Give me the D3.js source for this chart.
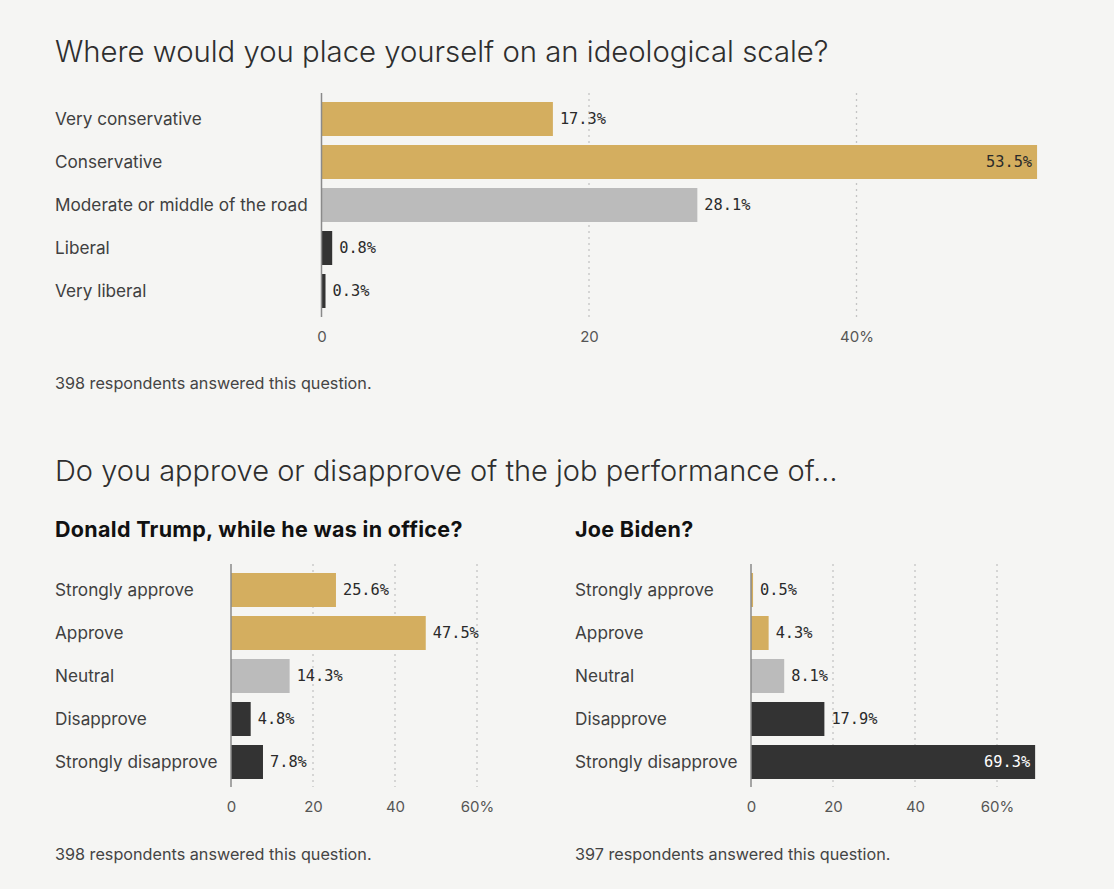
<!DOCTYPE html>
<html>
<head>
<meta charset="utf-8">
<script src="https://cdn.jsdelivr.net/npm/d3@7"></script>
<style>
  html, body { margin: 0; padding: 0; background: #f5f5f3; }
  svg { display: block; }
</style>
</head>
<body>
<svg id="chart" width="1114" height="889"></svg>
<script>
// ---------- DATA ----------
const ideologyCategories = ["Very conservative", "Conservative", "Moderate or middle of the road", "Liberal", "Very liberal"];
const ideologyValues = [17.3, 53.5, 28.1, 0.8, 0.3];
const ideologyGroups = ["con", "con", "mid", "lib", "lib"];
const ideologyTicks = [0, 20, 40];

const approvalCategories = ["Strongly approve", "Approve", "Neutral", "Disapprove", "Strongly disapprove"];
const approvalGroups = ["con", "con", "mid", "lib", "lib"];
const trumpValues = [25.6, 47.5, 14.3, 4.8, 7.8];
const bidenValues = [0.5, 4.3, 8.1, 17.9, 69.3];
const approvalTicks = [0, 20, 40, 60];

const title1 = "Where would you place yourself on an ideological scale?";
const title2 = "Do you approve or disapprove of the job performance of…";
const subTrump = "Donald Trump, while he was in office?";
const subBiden = "Joe Biden?";
const footer1 = "398 respondents answered this question.";
const footerTrump = "398 respondents answered this question.";
const footerBiden = "397 respondents answered this question.";

// ---------- STYLE ----------
const colors = { con: "#d4ae5f", mid: "#bbbbbb", lib: "#333333" };
const SANS = "Inter, 'Noto Sans', sans-serif";
const MONO = "'DejaVu Sans Mono', 'Liberation Mono', monospace";

const svg = d3.select("#chart");

function text(x, y, str, size, weight, fill, spacing) {
  return svg.append("text")
    .attr("x", x).attr("y", y)
    .attr("font-family", SANS)
    .attr("font-size", size)
    .attr("font-weight", weight)
    .attr("fill", fill)
    .attr("letter-spacing", spacing || 0)
    .text(str);
}

function drawBars(opts) {
  const { labelX, x0, unitPx, domainMax, top, step, barH, cats, vals, groups, ticks, tickY, axisTop, axisBottom } = opts;
  const x = d3.scaleLinear().domain([0, domainMax]).range([x0, x0 + unitPx * domainMax]);
  const y = d3.scalePoint().domain(cats).range([top, top + step * (cats.length - 1)]);

  const g = svg.append("g");

  // grid lines (dotted)
  g.selectAll("line.grid").data(ticks.filter(t => t !== 0)).join("line")
    .attr("class", "grid")
    .attr("x1", d => x(d)).attr("x2", d => x(d))
    .attr("y1", axisTop).attr("y2", axisBottom)
    .attr("stroke", "#c4c4c4").attr("stroke-width", 1.3)
    .attr("stroke-dasharray", "2,4");

  // category labels
  g.selectAll("text.cat").data(cats).join("text")
    .attr("class", "cat")
    .attr("x", labelX)
    .attr("y", d => y(d) + barH / 2)
    .attr("dy", "0.35em")
    .attr("font-family", SANS).attr("font-size", 17.2)
    .attr("fill", "#404040")
    .text(d => d);

  // bars
  g.selectAll("rect.bar").data(vals).join("rect")
    .attr("class", "bar")
    .attr("x", x(0))
    .attr("y", (d, i) => y(cats[i]))
    .attr("width", d => x(d) - x(0))
    .attr("height", barH)
    .attr("fill", (d, i) => colors[groups[i]]);

  // zero axis line
  g.append("line")
    .attr("x1", x(0)).attr("x2", x(0))
    .attr("y1", axisTop).attr("y2", axisBottom)
    .attr("stroke", "#8a8a8a").attr("stroke-width", 1.5);

  // value labels
  const inside = d => d > domainMax * 0.85;
  g.selectAll("text.val").data(vals).join("text")
    .attr("class", "val")
    .attr("x", d => inside(d) ? x(d) - 5 : x(d) + 7)
    .attr("y", (d, i) => y(cats[i]) + barH / 2)
    .attr("dy", "0.35em")
    .attr("text-anchor", d => inside(d) ? "end" : "start")
    .attr("font-family", MONO).attr("font-size", 15.3)
    .attr("fill", (d, i) => inside(d) && groups[i] === "lib" ? "#ffffff" : "#2a2a2a")
    .text(d => d.toFixed(1) + "%");

  // x axis ticks via d3 axis
  const axis = d3.axisBottom(x).tickValues(ticks).tickSize(0)
    .tickFormat((d, i) => i === ticks.length - 1 ? d + "%" : d);
  const ag = g.append("g").attr("transform", `translate(0,${tickY})`).call(axis);
  ag.select(".domain").remove();
  ag.selectAll("text")
    .attr("font-family", SANS).attr("font-size", 15)
    .attr("fill", "#555").attr("dy", 0).attr("y", 0);
}

// ---------- TITLES ----------
text(55, 62, title1, 29.3, 300, "#2e2e2e");
text(55, 481, title2, 29, 300, "#2e2e2e");
text(55, 537, subTrump, 21.5, 700, "#111", 0.3);
text(575, 537, subBiden, 21.5, 700, "#111", 0.3);

// ---------- CHART 1 ----------
drawBars({
  labelX: 55, x0: 321.5, unitPx: 13.375, domainMax: 53.6,
  top: 102, step: 43, barH: 34,
  cats: ideologyCategories, vals: ideologyValues, groups: ideologyGroups,
  ticks: ideologyTicks, tickY: 342, axisTop: 93, axisBottom: 317
});
text(55, 389, footer1, 16.2, 400, "#444");

// ---------- CHART 2 (Trump) ----------
drawBars({
  labelX: 55, x0: 231, unitPx: 4.1, domainMax: 60,
  top: 573, step: 43, barH: 34,
  cats: approvalCategories, vals: trumpValues, groups: approvalGroups,
  ticks: approvalTicks, tickY: 812, axisTop: 564, axisBottom: 787
});
text(55, 860, footerTrump, 16.2, 400, "#444");

// ---------- CHART 3 (Biden) ----------
drawBars({
  labelX: 575, x0: 751, unitPx: 4.1, domainMax: 69.4,
  top: 573, step: 43, barH: 34,
  cats: approvalCategories, vals: bidenValues, groups: approvalGroups,
  ticks: approvalTicks, tickY: 812, axisTop: 564, axisBottom: 787
});
text(575, 860, footerBiden, 16.2, 400, "#444");
</script>
</body>
</html>
